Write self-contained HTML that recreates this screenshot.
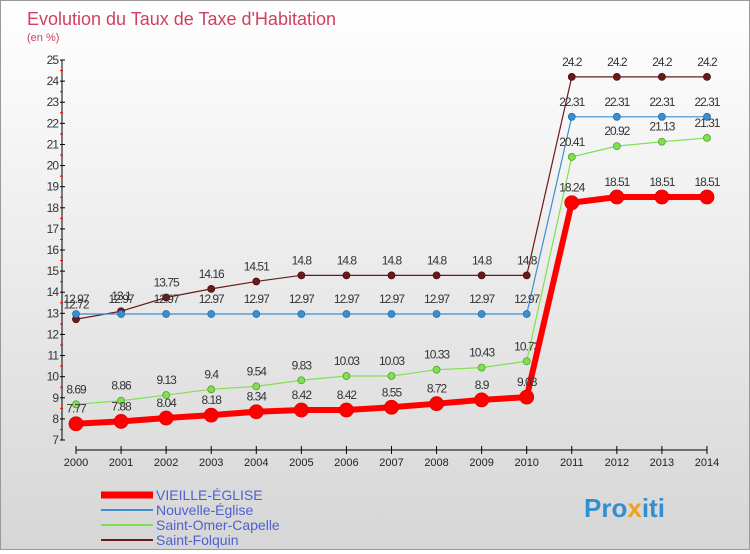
<!DOCTYPE html>
<html><head><meta charset="utf-8"><style>
body{margin:0;width:750px;height:550px;overflow:hidden;font-family:"Liberation Sans",sans-serif}
#wrap{position:relative;width:748px;height:548px;border:1px solid #999;background:linear-gradient(#fff,#d6d6d6)}
</style></head><body>
<div id="wrap">
<svg id="chart" width="748" height="548"></svg>
</div>
<script>
const years=[2000,2001,2002,2003,2004,2005,2006,2007,2008,2009,2010,2011,2012,2013,2014];
const vieille=[7.77,7.88,8.04,8.18,8.34,8.42,8.42,8.55,8.72,8.9,9.03,18.24,18.51,18.51,18.51];
const nouvelle=[12.97,12.97,12.97,12.97,12.97,12.97,12.97,12.97,12.97,12.97,12.97,22.31,22.31,22.31,22.31];
const omer=[8.69,8.86,9.13,9.4,9.54,9.83,10.03,10.03,10.33,10.43,10.73,20.41,20.92,21.13,21.31];
const folquin=[12.72,13.1,13.75,14.16,14.51,14.8,14.8,14.8,14.8,14.8,14.8,24.2,24.2,24.2,24.2];
const yTicks=[7,8,9,10,11,12,13,14,15,16,17,18,19,20,21,22,23,24,25];
const NS='http://www.w3.org/2000/svg';
const svg=document.getElementById('chart');
const X=i=>75+i*45.07;
const Y=v=>439-(v-7)*21.11;
function mk(t,a,p){const e=document.createElementNS(NS,t);for(const k in a)e.setAttribute(k,a[k]);(p||svg).appendChild(e);return e;}
let t=mk('text',{x:26,y:24,'font-size':18,fill:'#d04060'});t.textContent="Evolution du Taux de Taxe d'Habitation";


t=mk('text',{x:26,y:40,'font-size':11,fill:'#d04060'});t.textContent="(en %)";


let ax=mk('line',{x1:61,y1:Y(25),x2:61,y2:Y(7),stroke:'#000','stroke-width':1});


yTicks.forEach(v=>{
 mk('line',{x1:59,x2:64,y1:Y(v),y2:Y(v),stroke:'#000'});
 if(v<25)mk('line',{x1:59,x2:62,y1:Y(v+0.5),y2:Y(v+0.5),stroke:'#e00'});
 const l=mk('text',{x:57,y:Y(v)+4,'font-size':12,'text-anchor':'end',fill:'#333','letter-spacing':'-1'});l.textContent=v;
 
 
});
ax=mk('line',{x1:X(0),x2:X(14),y1:449,y2:449,stroke:'#000'});


years.forEach((y,i)=>{
 mk('line',{x1:X(i),x2:X(i),y1:445,y2:453,stroke:'#000'});
 const l=mk('text',{x:X(i),y:465,'font-size':11,'text-anchor':'middle',fill:'#222'});l.textContent=y;
 
 
});
function series(vals,color,w,r,name,dark){
 const g=mk('g',{});
 
 
 mk('polyline',{points:vals.map((v,i)=>X(i)+','+Y(v)).join(' '),fill:'none',stroke:color,'stroke-width':w},g);
 vals.forEach((v,i)=>{
  const c=mk('circle',{cx:X(i),cy:Y(v),r:r,fill:color,stroke:dark,'stroke-width':0.8},g);
  
  
  const l=mk('text',{x:X(i),y:Y(v)-11,'font-size':12,'text-anchor':'middle',fill:'#333','letter-spacing':'-1'},g);l.textContent=v;
 });
}
series(folquin,'#6b1a1a',1.2,3.5,'saint-folquin-series','#4a1010');
series(nouvelle,'#3b8fd0',1.2,3.5,'nouvelle-eglise-series','#2070b0');
series(omer,'#80e050',1.2,3.5,'saint-omer-capelle-series','#50a030');
series(vieille,'#ff0000',6,7,'vieille-eglise-series','#e00000');
const leg=[['VIEILLE-ÉGLISE','#ff0000',7],['Nouvelle-Église','#3b8fd0',2],['Saint-Omer-Capelle','#80e050',2],['Saint-Folquin','#6b1a1a',2]];
leg.forEach((d,i)=>{
 const y=494+i*15;
 const g=mk('g',{});
 
 
 mk('line',{x1:100,x2:152,y1:y,y2:y,stroke:d[1],'stroke-width':d[2]},g);
 const l=mk('text',{x:155,y:y+5,'font-size':14,fill:'#5060d0'},g);l.textContent=d[0];
});
const lg=mk('text',{x:583,y:516,'font-size':26,'font-weight':'bold',fill:'#3090d0'});


lg.innerHTML='Pro<tspan fill="#f0a020">x</tspan>iti';
</script>
</body></html>
